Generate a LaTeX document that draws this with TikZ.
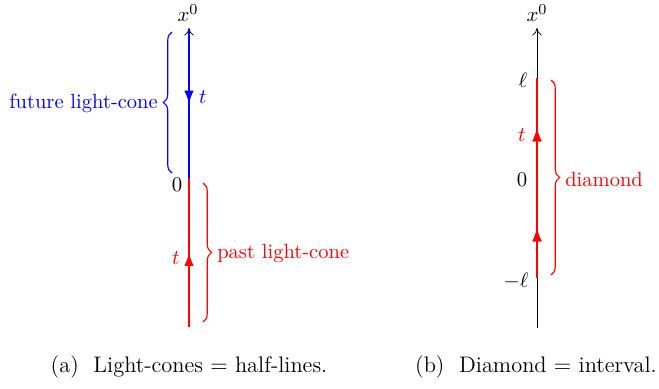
\documentclass[tikz,border=0pt]{standalone}
\usepackage{tikz}
\usetikzlibrary{arrows.meta, decorations.pathreplacing, decorations.markings, positioning}

\tikzset{
  axisline/.style={->, >={To[length=4pt,width=5pt]}, line width=0.4pt},
  coneline/.style={line width=1pt},
  arrowat/.style={postaction={decorate}, decoration={markings,
      mark=at position #1 with {\arrow{Latex[length=7pt,width=5pt]}}}},
  bracedec/.style={decorate, decoration={brace, amplitude=4.5pt}, line width=0.6pt},
  captext/.style={font=\fontsize{11.8}{14}\selectfont},
}

\begin{document}
\begin{tikzpicture}[x=0.0185cm, y=-0.0185cm, font=\fontsize{10.8}{13}\selectfont]
    \useasboundingbox (0,0) rectangle (659,388);

    % --- (a) light-cones ---
    \coordinate (abot) at (189,327);
    \coordinate (aorig) at (189,178);
    \coordinate (atop) at (189,28);
    \coordinate (ablue) at (189,30);
    \draw[axisline] (aorig) -- (atop);
    \node (ax0) at (188,13) {$x^0$};
    \draw[coneline, blue, arrowat=0.5] (ablue) -- (aorig);
    \draw[coneline, red, arrowat=0.5] (abot) -- (aorig);
    \node (azero) at (177,185) {$0$};
    \node[blue] (atf) at (203,97) {$t$};
    \node[red] (atp) at (176,258) {$t$};

    % braces
    \coordinate (fbb) at (172,173);
    \coordinate (fbt) at (172,32);
    \draw[bracedec, blue] (fbb) -- (fbt);
    \node[blue, anchor=east, inner sep=1pt] (future) at (160,103) {future light-cone};
    \coordinate (pbt) at (203,183);
    \coordinate (pbb) at (203,322);
    \draw[bracedec, red] (pbt) -- (pbb);
    \node[red, anchor=west, inner sep=1pt] (past) at (215,253) {past light-cone};

    \node[captext] (capa) at (189,367) {(a)\ \ Light-cones $=$ half-lines.};

    % --- (b) diamond ---
    \coordinate (bbot) at (537,328);
    \coordinate (btop) at (537,28);
    \coordinate (bminus) at (537,278);
    \coordinate (bplus) at (537,78);
    \draw[axisline] (bbot) -- (btop);
    \node (bx0) at (537,13) {$x^0$};
    \draw[coneline, red, arrowat=0.25, arrowat=0.75] (bminus) -- (bplus);
    \node (bell) at (523,80) {$\ell$};
    \node (bzero) at (522,180) {$0$};
    \node (bmell) at (516,281) {$-\ell$};
    \node[red] (bt) at (522,135) {$t$};

    \coordinate (dbt) at (551,80);
    \coordinate (dbb) at (551,275);
    \draw[bracedec, red] (dbt) -- (dbb);
    \node[red, anchor=west, inner sep=1pt] (diam) at (563,179) {diamond};

    \node[captext] (capb) at (536,367) {(b)\ \ Diamond $=$ interval.};
\end{tikzpicture}
\end{document}
